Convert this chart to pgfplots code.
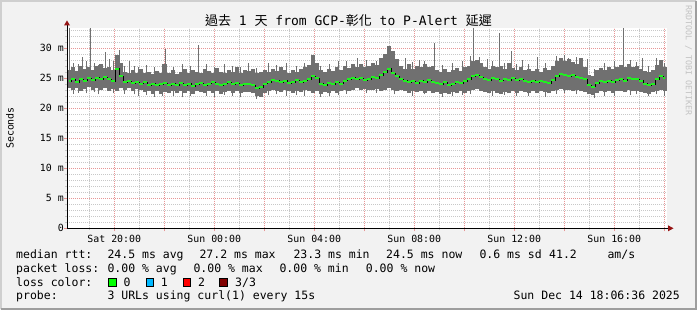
\documentclass[border=0pt]{standalone}
\usepackage{fontspec}
\setmainfont{DejaVu Sans Mono}
\newfontfamily\cjk{Noto Sans CJK TC}
\usepackage{pgfplots}
\pgfplotsset{compat=1.18}
\usepackage{pgfplotstable}

\definecolor{bg}{RGB}{242,242,242}
\definecolor{smoke}{RGB}{112,112,112}
\definecolor{medc}{RGB}{32,240,32}
\definecolor{mingrid}{RGB}{200,200,200}
\definecolor{majgrid}{RGB}{232,150,150}
\definecolor{arrowred}{RGB}{150,20,20}
\definecolor{lossgreen}{RGB}{0,255,0}
\definecolor{lossblue}{RGB}{0,184,255}
\definecolor{lossred}{RGB}{255,0,0}
\definecolor{lossdark}{RGB}{128,0,0}
\definecolor{wm}{RGB}{195,195,195}
\definecolor{bordlight}{RGB}{207,207,207}
\definecolor{borddark}{RGB}{158,158,158}

\pgfplotstableread{
x lo hi med
2 23.3 26.4 24.5
6 23.0 26.9 24.9
10 23.4 26.2 24.4
14 22.9 27.1 24.8
18 23.2 26.6 24.6
22 23.5 26.8 25.0
26 23.1 26.3 24.7
30 23.4 27.0 25.1
34 23.0 27.4 24.9
38 23.3 26.7 25.2
42 22.9 26.9 24.8
46 23.2 26.4 24.5
50 22.9 28.9 26.6
54 23.3 27.6 25.4
58 23.1 26.1 24.3
62 23.3 25.9 24.5
66 22.8 26.3 24.2
70 23.2 25.8 24.4
74 23.0 26.6 24.1
78 22.7 25.9 24.3
82 22.9 26.0 23.9
86 22.4 25.7 24.1
90 22.8 26.2 23.8
94 22.3 25.8 24.0
98 22.7 27.4 24.2
102 22.6 25.9 23.9
106 22.9 26.3 24.1
110 22.5 25.7 23.8
114 22.8 26.1 24.2
118 22.6 26.6 23.9
122 22.9 25.9 24.1
126 22.4 26.4 23.7
130 22.8 26.0 24.0
134 22.7 25.8 24.2
138 22.5 26.5 23.9
142 22.9 26.2 24.1
146 22.6 25.9 24.3
150 22.8 26.7 24.0
154 22.4 26.1 23.8
158 22.7 25.8 24.1
162 22.9 26.3 24.3
166 22.6 26.0 24.0
170 22.8 26.8 24.2
174 22.5 25.9 23.9
178 22.7 26.4 24.1
182 22.7 26.2 24.0
186 22.5 26.6 23.8
190 22.0 25.9 23.4
194 21.9 26.1 23.5
198 22.6 26.3 24.1
202 22.8 26.0 24.3
206 23.0 26.5 24.7
210 22.9 26.2 24.6
214 22.7 26.8 24.4
218 23.0 26.3 24.6
222 22.8 25.9 24.2
226 22.6 26.4 24.4
230 22.9 26.1 24.7
234 22.7 26.6 24.3
238 23.0 26.9 24.6
242 22.8 27.2 24.9
246 22.6 28.9 25.3
250 22.9 27.5 25.0
254 22.4 26.3 24.1
258 22.7 26.0 23.9
262 22.5 26.5 24.2
266 22.9 26.2 24.0
270 22.6 26.8 24.3
274 22.8 26.4 24.1
278 23.0 27.0 24.6
282 22.8 26.7 24.9
286 23.1 27.3 25.1
290 23.3 26.9 24.8
294 23.0 27.4 25.0
298 23.2 26.8 24.7
302 23.1 27.1 24.9
306 23.0 27.6 25.2
310 23.2 27.2 25.0
314 22.9 28.3 25.5
318 23.1 29.0 26.0
322 23.3 30.3 26.6
326 23.0 29.6 25.8
330 22.9 28.2 25.4
334 23.1 27.0 24.9
338 22.8 26.6 24.6
342 22.6 27.3 24.3
346 22.9 26.5 24.5
350 22.7 27.0 24.2
354 22.9 26.8 24.6
358 22.6 27.4 24.4
362 22.8 26.9 24.7
366 22.5 27.1 24.3
370 22.7 26.4 24.2
374 22.4 26.1 24.0
378 22.6 26.5 24.3
382 22.3 26.0 23.9
386 22.7 26.3 24.1
390 22.5 26.7 24.4
394 22.8 26.2 24.2
398 22.6 26.8 24.5
402 22.9 27.0 24.8
406 23.0 27.8 25.3
410 23.2 28.0 25.5
414 22.9 27.5 25.2
418 22.7 26.9 24.9
422 22.5 26.6 24.7
426 22.8 27.1 25.0
430 22.6 26.8 24.8
434 22.4 27.0 24.6
438 22.7 26.5 24.9
442 22.5 27.6 24.7
446 22.8 26.7 25.0
450 22.6 26.4 24.7
454 22.9 26.9 24.9
458 22.7 26.3 24.5
462 22.5 26.6 24.4
466 22.8 26.2 24.6
470 22.6 26.5 24.3
474 22.9 26.1 24.5
478 22.7 26.7 24.4
482 22.5 26.4 24.2
486 22.8 27.0 24.7
490 23.0 27.9 25.4
494 23.2 28.3 25.7
498 23.1 27.8 25.5
502 23.0 28.2 25.3
506 22.9 27.7 25.5
510 23.1 27.4 25.2
514 22.8 28.4 25.0
518 22.7 26.8 24.8
522 22.3 25.6 23.8
526 22.2 25.4 23.6
530 22.6 26.3 24.2
534 22.8 26.7 24.5
538 22.7 26.4 24.3
542 22.9 26.9 24.6
546 22.6 26.5 24.4
550 22.8 26.8 24.7
554 22.9 27.2 24.9
558 22.7 26.9 24.6
562 23.0 27.3 25.0
566 22.8 26.8 24.8
570 22.9 27.1 24.9
574 22.7 26.6 24.6
578 22.6 26.2 24.1
582 22.4 26.0 23.9
586 22.7 26.3 24.0
590 22.9 27.2 24.9
594 23.0 28.0 25.4
598 22.8 26.9 25.0
}\smoketab

\pgfplotstableread{
x lo hi
3 25.5 33.3
15 25.5 28.5
23 25.5 33.3
38 25.5 29.4
42 25.5 28.2
52 25.5 29.7
62 25.5 27.8
98 25.5 29.9
131 25.5 30.5
181 25.5 27.5
290 25.5 28.3
318 25.5 28.6
338 25.5 28.4
352 25.5 28.0
367 25.5 30.8
406 25.5 33.3
412 25.5 28.6
420 25.5 28.2
432 25.5 32.6
444 25.5 29.6
455 25.5 28.0
470 25.5 28.5
501 25.5 28.4
520 25.5 28.2
556 25.5 33.3
575 25.5 28.3
593 25.5 28.0
7 22.4 27.6
11 22.6 27.3
19 22.5 27.8
27 22.7 27.5
31 22.3 27.2
46 22.5 27.9
57 22.4 27.0
67 22.3 27.1
71 22.0 26.8
79 22.2 27.2
87 21.9 26.9
95 22.0 27.3
106 22.1 26.9
115 21.8 27.4
123 22.0 27.0
139 22.1 27.3
147 21.9 26.8
157 22.2 27.4
165 22.0 27.1
173 21.8 26.9
189 21.6 26.7
201 22.2 27.6
209 22.3 27.2
219 22.1 27.5
229 22.2 27.0
237 22.0 27.6
253 21.9 27.0
262 22.1 27.4
271 22.2 27.8
279 22.4 27.9
299 22.5 28.1
309 22.6 27.9
327 22.3 28.5
345 22.1 27.7
357 22.3 27.9
375 21.9 27.2
385 22.0 27.5
395 22.2 27.8
403 22.4 28.7
425 22.1 27.9
437 22.2 27.5
449 22.0 27.3
461 22.1 27.4
478 21.9 27.6
489 22.4 28.7
497 22.5 28.9
509 22.3 28.6
527 21.7 26.5
537 22.0 27.6
547 22.1 27.9
563 22.2 28.1
569 22.3 27.7
581 22.0 27.1
589 22.3 28.3
597 22.1 27.5
}\spiketab

\begin{document}
\begin{tikzpicture}[x=1pt,y=1pt]
\fill[bg] (0,0) rectangle (697,310);
\draw[bordlight, line width=2pt] (1,1) -- (1,309) -- (696,309);
\draw[borddark, line width=2pt] (1,1) -- (696,1) -- (696,309);

\begin{axis}[
  at={(67pt,81.7pt)}, anchor=south west,
  width=600pt, height=200pt, scale only axis,
  xmin=0, xmax=600, ymin=0, ymax=33.33,
  axis background/.style={fill=white},
  axis line style={draw=none},
  xtick pos=bottom, ytick pos=left,
  tick align=outside,
  major tick length=3pt, minor tick length=2pt,
  every major tick/.append style={majgrid, line width=0.8pt},
  every minor tick/.append style={mingrid, line width=0.8pt},
  grid=both,
  major grid style={majgrid, line width=0.8pt, dash pattern=on 1pt off 1pt},
  minor grid style={mingrid, line width=0.8pt, dash pattern=on 1pt off 1pt},
  xtick={47.25,97.25,147.25,197.25,247.25,297.25,347.25,397.25,447.25,497.25,547.25,597.25},
  xticklabels={Sat 20:00,,Sun 00:00,,Sun 04:00,,Sun 08:00,,Sun 12:00,,Sun 16:00,},
  minor xtick={22.25,72.25,122.25,172.25,222.25,272.25,322.25,372.25,422.25,472.25,522.25,572.25},
  ytick={0,5,10,15,20,25,30},
  yticklabels={0,5 m,10 m,15 m,20 m,25 m,30 m},
  minor ytick={1,2,3,4,6,7,8,9,11,12,13,14,16,17,18,19,21,22,23,24,26,27,28,29,31,32,33},
  tick label style={font=\fontsize{9.9}{11}\selectfont, black},
  xticklabel style={anchor=base, inner sep=0pt, yshift=-11.7pt},
  yticklabel style={anchor=east, inner sep=0pt},
  clip=true,
]
\addplot[draw=none, mark=none, forget plot,
  error bars/.cd, y dir=plus, y explicit,
  error bar style={draw=smoke, line width=4pt}, error mark=none]
  table[x=x, y=lo, y error expr=\thisrow{hi}-\thisrow{lo}] {\smoketab};
\addplot[draw=none, mark=none, forget plot,
  error bars/.cd, y dir=plus, y explicit,
  error bar style={draw=smoke, line width=1pt}, error mark=none]
  table[x=x, y=lo, y error expr=\thisrow{hi}-\thisrow{lo}] {\spiketab};
\addplot[black, line width=0.6pt, mark=none, const plot mark mid] table[x=x, y=med] {\smoketab};
\addplot[medc, line width=2pt, mark=none, jump mark mid] table[x=x, y=med] {\smoketab};
\end{axis}

% axis lines with arrows
\draw[black, line width=1pt] (67,81.7) -- (668.5,81.7);
\fill[arrowred] (668,78.7) -- (673.5,81.7) -- (668,84.7) -- cycle;
\draw[black, line width=1pt] (67,81.7) -- (67,285);
\fill[arrowred] (64,284.5) -- (67,289.5) -- (70,284.5) -- cycle;

% title
\node[anchor=base, inner sep=0pt, font=\fontsize{13}{14}\selectfont] at (348.5,284)
  {{\cjk 過去} 1 {\cjk 天} from GCP-{\cjk 彰化} to P-Alert {\cjk 延遲}};
% y label
\node[rotate=90, inner sep=0pt, font=\fontsize{9.9}{11}\selectfont] at (10,182) {Seconds};
% watermark
\node[rotate=-90, anchor=west, inner sep=0pt, text=wm, font=\fontsize{8.3}{9}\selectfont] at (688.5,305) {RRDTOOL / TOBI OETIKER};

\begin{scope}[every node/.style={inner sep=0pt, anchor=base west, font=\fontsize{11.5}{12}\selectfont}]
\node at (16,51.7) {median rtt:};
\node at (107.3,51.7) {24.5 ms avg};
\node at (199.3,51.7) {27.2 ms max};
\node at (293.3,51.7) {23.3 ms min};
\node at (386,51.7) {24.5 ms now};
\node at (479.3,51.7) {0.6 ms sd};
\node at (549,51.7) {41.2};
\node at (607.3,51.7) {am/s};
\node at (16,37.7) {packet loss:};
\node at (107.3,37.7) {0.00 \% avg};
\node at (193.3,37.7) {0.00 \% max};
\node at (279.3,37.7) {0.00 \% min};
\node at (365.7,37.7) {0.00 \% now};
\node at (16,23.7) {loss color:};
\node at (123.3,23.7) {0};
\node at (160.7,23.7) {1};
\node at (198,23.7) {2};
\node at (235,23.7) {3/3};
\node at (16,10) {probe:};
\node at (107.3,10) {3 URLs using curl(1) every 15s};
\node[anchor=base east] at (680,10) {Sun Dec 14 18:06:36 2025};
\end{scope}
\filldraw[fill=lossgreen, draw=black, line width=0.8pt] (108.5,24) rectangle (116,31.5);
\filldraw[fill=lossblue, draw=black, line width=0.8pt] (145.9,24) rectangle (153.4,31.5);
\filldraw[fill=lossred, draw=black, line width=0.8pt] (182.9,24) rectangle (190.4,31.5);
\filldraw[fill=lossdark, draw=black, line width=0.8pt] (219.5,24) rectangle (227,31.5);
\end{tikzpicture}
\end{document}
